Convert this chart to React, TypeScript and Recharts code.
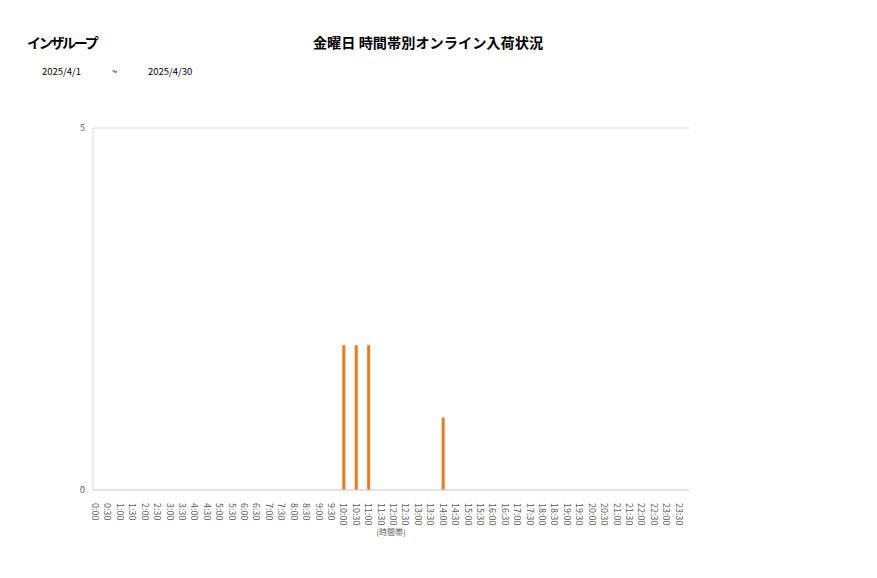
import { BarChart, Bar, XAxis, YAxis, CartesianGrid } from "recharts";

// 時間帯ラベル (30分刻み)
const timeSlots = [
  "0:00", "0:30", "1:00", "1:30", "2:00", "2:30", "3:00", "3:30",
  "4:00", "4:30", "5:00", "5:30", "6:00", "6:30", "7:00", "7:30",
  "8:00", "8:30", "9:00", "9:30", "10:00", "10:30", "11:00", "11:30",
  "12:00", "12:30", "13:00", "13:30", "14:00", "14:30", "15:00", "15:30",
  "16:00", "16:30", "17:00", "17:30", "18:00", "18:30", "19:00", "19:30",
  "20:00", "20:30", "21:00", "21:30", "22:00", "22:30", "23:00", "23:30",
];

// 入荷件数
const arrivals = [
  0, 0, 0, 0, 0, 0, 0, 0,
  0, 0, 0, 0, 0, 0, 0, 0,
  0, 0, 0, 0, 2, 2, 2, 0,
  0, 0, 0, 0, 1, 0, 0, 0,
  0, 0, 0, 0, 0, 0, 0, 0,
  0, 0, 0, 0, 0, 0, 0, 0,
];

const yTicks = [0, 5];

const data = timeSlots.map((t, i) => ({ time: t, count: arrivals[i] }));

const FONT = '"Noto Sans CJK JP", "Noto Sans", sans-serif';
const GRID = "#d9d9d9";
const TEXT = "#595959";

function TimeTick({ x, y, payload }: any) {
  return (
    <text
      x={x}
      y={y + 5}
      transform={`rotate(90, ${x}, ${y + 5})`}
      textAnchor="start"
      dy="0.35em"
      fontSize={9}
      fill={TEXT}
      fontFamily={FONT}
    >
      {payload.value}
    </text>
  );
}

export default function App() {
  return (
    <div
      style={{
        position: "absolute",
        left: 0,
        top: 0,
        width: 877,
        height: 578,
        background: "#fff",
        fontFamily: FONT,
      }}
    >
      <div style={{ position: "absolute", left: 27, top: 32, fontSize: 14, fontWeight: 700, letterSpacing: -2.3, lineHeight: "20px", color: "#000" }}>
        インザループ
      </div>
      <div style={{ position: "absolute", left: 0, width: 856, top: 32, textAlign: "center", fontSize: 14.2, fontWeight: 700, lineHeight: "20px", color: "#000" }}>
        金曜日 時間帯別オンライン入荷状況
      </div>
      <div style={{ position: "absolute", left: 42, top: 64, fontSize: 9.5, lineHeight: "14px", color: "#000" }}>2025/4/1</div>
      <div style={{ position: "absolute", left: 112, top: 64, fontSize: 9.5, lineHeight: "14px", color: "#000" }}>~</div>
      <div style={{ position: "absolute", left: 148, top: 64, fontSize: 9.5, lineHeight: "14px", color: "#000" }}>2025/4/30</div>

      <BarChart
        width={877}
        height={578}
        data={data}
        margin={{ top: 128, left: 73, right: 188, bottom: 42 }}
        barCategoryGap={0}
      >
        <CartesianGrid vertical={false} stroke={GRID} yAxisId="l" />
        <XAxis
          dataKey="time"
          interval={0}
          tickLine={false}
          axisLine={{ stroke: GRID }}
          tick={<TimeTick />}
          height={46}
          padding={{ left: -4, right: 4 }}
          label={{ value: "(時間帯)", position: "insideBottom", offset: 1, fontSize: 8, fill: TEXT, fontFamily: FONT }}
        />
        <YAxis
          yAxisId="l"
          width={20}
          domain={[0, 5]}
          ticks={yTicks}
          tickLine={false}
          tickSize={0}
          tickMargin={8}
          axisLine={{ stroke: GRID }}
          tick={{ fontSize: 9, fill: TEXT, fontFamily: FONT }}
        />
        <YAxis
          yAxisId="r"
          orientation="right"
          width={0}
          domain={[0, 5]}
          tick={false}
          tickLine={false}
          axisLine={{ stroke: GRID }}
        />
        <Bar yAxisId="l" dataKey="count" fill="#ef771d" barSize={3} isAnimationActive={false} />
      </BarChart>
    </div>
  );
}
